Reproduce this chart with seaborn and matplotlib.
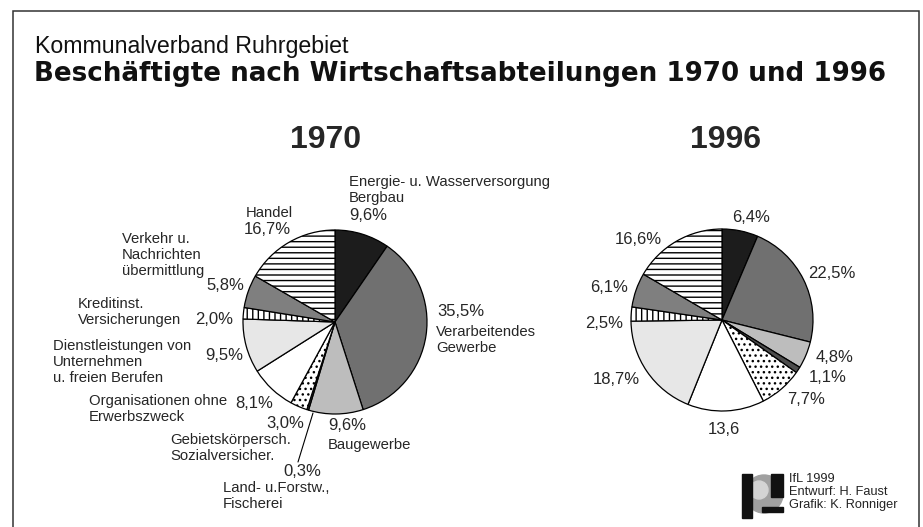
import numpy as np
import pandas as pd
import matplotlib
matplotlib.use("Agg")
import matplotlib.pyplot as plt
import seaborn as sns
from matplotlib.patches import Circle, Rectangle

# ---- data ----
sectors = ["Energie- u. Wasserversorgung\nBergbau", "Verarbeitendes\nGewerbe", "Baugewerbe",
           "Land- u.Forstw.,\nFischerei", "Gebietskörpersch.\nSozialversicher.",
           "Organisationen ohne\nErwerbszweck", "Dienstleistungen von\nUnternehmen\nu. freien Berufen",
           "Kreditinst.\nVersicherungen", "Verkehr u.\nNachrichten\nübermittlung", "Handel"]
share_1970 = [9.6, 35.5, 9.6, 0.3, 3.0, 8.1, 9.5, 2.0, 5.8, 16.7]
share_1996 = [6.4, 22.5, 4.8, 1.1, 7.7, 13.6, 18.7, 2.5, 6.1, 16.6]
pct_1970 = ["9,6%", "35,5%", "9,6%", "0,3%", "3,0%", "8,1%", "9,5%", "2,0%", "5,8%", "16,7%"]
pct_1996 = ["6,4%", "22,5%", "4,8%", "1,1%", "7,7%", "13,6", "18,7%", "2,5%", "6,1%", "16,6%"]

# ---- styles per sector ----
fills = ["#1c1c1c", "#707070", "#bdbdbd", "#4d4d4d", "white", "white", "#e7e7e7", "white", "#7f7f7f", "white"]
hatches = [None, None, None, None, "...", None, None, "|||", None, "---"]

W, H = 923, 527

sns.set_theme(style="white")
plt.rcParams["font.family"] = ["Liberation Sans", "DejaVu Sans"]
plt.rcParams["hatch.linewidth"] = 1.0

fig = plt.figure(figsize=(W / 100, H / 100), dpi=100)
ax = fig.add_axes([0, 0, 1, 1])


def Y(y):
    # pixel row (from top) -> data y
    return H - y


def draw_pie(values, cx, cy, r):
    wedges, _ = ax.pie(values, colors=fills, startangle=90, counterclock=False,
                       center=(cx, Y(cy)), radius=r, frame=True,
                       wedgeprops=dict(edgecolor="black", linewidth=0.9))
    for w, h in zip(wedges, hatches):
        if h:
            w.set_hatch(h)
    return wedges


draw_pie(share_1970, 335, 322, 92)
draw_pie(share_1996, 722, 320, 91)

ax.set_xlim(0, W)
ax.set_ylim(0, H)
ax.set_aspect("equal")
ax.set_axis_off()

# frame
fc = "#333333"
ax.plot([13, 13, 919, 919], [0, Y(11), Y(11), 0], color=fc, lw=1.1, solid_joinstyle="miter")

# titles
ax.text(35, Y(47), "Kommunalverband Ruhrgebiet", fontsize=16.7, va="center", color="#111111")
ax.text(34, Y(74), "Beschäftigte nach Wirtschaftsabteilungen 1970 und 1996", fontsize=18.8,
        fontweight="bold", va="center", color="#111111", family="DejaVu Sans")
ax.text(326, Y(140), "1970", fontsize=23, fontweight="bold", ha="center", va="center")
ax.text(726, Y(140), "1996", fontsize=23, fontweight="bold", ha="center", va="center")

nfs, pfs, ls = 10.7, 12, 1.22

# 1970 labels: (x, y) for name block and for percentage
name_pos_1970 = [(349, 190), (436, 340), (328, 445), (223, 496), (170, 448),
                 (89, 409), (53, 362), (78, 312), (122, 255), (246, 213)]
pct_pos_1970 = [(349, 215), (437, 312), (328, 426), (283, 472), (266, 423),
                (235, 403), (205, 356), (195, 319), (206, 285), (244, 229)]
for name, p, (nx, ny), (px, py) in zip(sectors, pct_1970, name_pos_1970, pct_pos_1970):
    ax.text(nx, Y(ny), name, fontsize=nfs, va="center", ha="left", linespacing=ls)
    ax.text(px, Y(py), p, fontsize=pfs, va="center", ha="left")

# leader line for the tiny Land- u. Forstw. wedge
ax.plot([313, 298], [Y(413), Y(462)], color="black", lw=0.8)

# 1996 labels
pct_pos_1996 = [(732, 217), (808, 273), (816, 357), (809, 378), (787, 400),
                (708, 429), (593, 380), (585, 323), (590, 287), (615, 240)]
for p, (px, py) in zip(pct_1996, pct_pos_1996):
    ax.text(px, Y(py), p, fontsize=pfs, va="center", ha="left")

# IfL logo
ax.add_patch(Circle((764, Y(494)), 19, color="#a0a0a0", zorder=3))
ax.add_patch(Circle((759, Y(490)), 9, color="#d4d4d4", zorder=3))
ax.add_patch(Rectangle((742, Y(518)), 10, 44, color="#111111", zorder=4))
ax.add_patch(Rectangle((771, Y(497)), 12, 23, color="#111111", zorder=4))
ax.add_patch(Rectangle((762, Y(512)), 21, 5, color="#111111", zorder=4))

for txt, yy in zip(["IfL 1999", "Entwurf: H. Faust", "Grafik: K. Ronniger"], [479, 492, 505]):
    ax.text(789, Y(yy), txt, fontsize=9.2, va="center", ha="left", color="#222222")

fig.savefig("out.png", dpi=100)
